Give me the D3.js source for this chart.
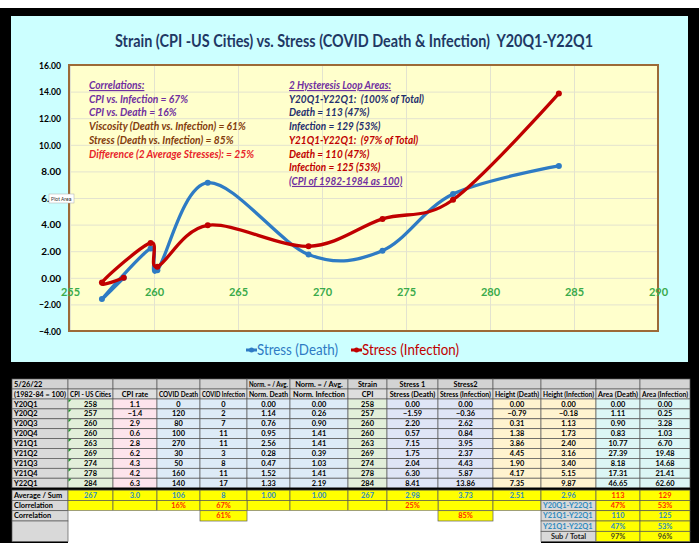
<!DOCTYPE html>
<html>
<head>
<meta charset="utf-8">
<script src="https://cdn.jsdelivr.net/npm/d3@7"></script>
<style>
body { margin: 0; background: #000; }
svg { display: block; }
svg text { white-space: pre; }
</style>
</head>
<body>
<svg id="chart"></svg>
<script>
"use strict";

// ---- data ----
const quarters = ["Y20Q1", "Y20Q2", "Y20Q3", "Y20Q4", "Y21Q1", "Y21Q2", "Y21Q3", "Y21Q4", "Y22Q1"];
const cpi = [258.2, 256.9, 259.8, 260.2, 263.2, 269.2, 273.6, 277.8, 284.1];
const cpiRate = [1.1, -1.4, 2.9, 0.6, 2.8, 6.2, 4.3, 4.2, 6.3];
const covidDeath = [0, 120, 80, 100, 270, 30, 50, 160, 140];
const covidInfection = [0, 2, 7, 11, 11, 3, 8, 11, 17];
const normDeath = [0.00, 1.14, 0.76, 0.95, 2.56, 0.28, 0.47, 1.52, 1.33];
const normInfection = [0.00, 0.26, 0.90, 1.41, 1.41, 0.39, 1.03, 1.41, 2.19];
const stressDeath = [0.00, -1.59, 2.20, 0.57, 7.15, 1.75, 2.04, 6.30, 8.41];
const stressInfection = [0.00, -0.36, 2.62, 0.84, 3.95, 2.37, 4.43, 5.87, 13.86];
const heightDeath = [0.00, -0.79, 0.31, 1.38, 3.86, 4.45, 1.90, 4.17, 7.35];
const heightInfection = [0.00, -0.18, 1.13, 1.73, 2.40, 3.16, 3.40, 5.15, 9.87];
const areaDeath = [0.00, 1.11, 0.90, 0.83, 10.77, 27.39, 8.18, 17.31, 46.65];
const areaInfection = [0.00, 0.25, 3.28, 1.03, 6.70, 19.48, 14.68, 21.41, 62.60];
const averages = [267, 3.0, 106, 8, 1.00, 1.00, 267, 2.98, 3.73, 2.51, 2.96, 113, 129];

const corrCpiDeath = 0.16;
const corrCpiInfection = 0.67;
const viscosity = 0.61;
const stressCorr = 0.85;
const stressDiff = 0.25;
const loopAll = [113, 129];
const loopAllShare = [0.47, 0.53];
const loopY21 = [110, 125];
const loopY21Share = [0.47, 0.53];
const subTotal = [0.97, 0.96];

const xTicks = [255, 260, 265, 270, 275, 280, 285, 290];
const yTicks = [-4, -2, 0, 2, 4, 6, 8, 10, 12, 14, 16];

const headRow1 = ["5/26/22", "", "", "", "", "Norm. = / Avg.", "Norm. = / Avg.", "Strain", "Stress 1", "Stress2", "", "", "", ""];
const headRow2 = ["(1982-84 = 100)", "CPI - US Cities", "CPI rate", "COVID Death", "COVID Infection", "Norm. Death",
    "Norm. Infection", "CPI", "Stress (Death)", "Stress (Infection)", "Height (Death)", "Height (Infection)",
    "Area (Death)", "Area (Infection)"];

// ---- layout ----
const W = 699, H = 543;
const FONT = "Lato, 'Open Sans', sans-serif";
const plot = { left: 69, right: 658, top: 65, bottom: 331 };
const BLUE = "#2e7bc4", RED = "#c00000";

// squeeze a text into a width (the sheet font is narrower than anything installed)
function fitWidth(sel, w) {
    sel.each(function () {
        if (this.getComputedTextLength() > w) {
            d3.select(this).attr("textLength", w).attr("lengthAdjust", "spacingAndGlyphs");
        }
    });
}
function squeeze(sel, k) {
    sel.each(function () {
        d3.select(this).attr("textLength", this.getComputedTextLength() * k).attr("lengthAdjust", "spacingAndGlyphs");
    });
}

const svg = d3.select("#chart").attr("width", W).attr("height", H);
svg.append("rect").attr("width", W).attr("height", H).attr("fill", "#000");
svg.append("rect").attr("width", W).attr("height", 8).attr("fill", "#fff");
svg.append("rect").attr("x", 11).attr("y", 16).attr("width", 677).attr("height", 346).attr("fill", "#ccffff");

svg.append("text")
    .attr("x", 354).attr("y", 47)
    .attr("text-anchor", "middle")
    .attr("font-family", FONT).attr("font-weight", "bold").attr("font-size", 16.5)
    .attr("fill", "#1f3864")
    .text("Strain (CPI -US Cities) vs. Stress (COVID Death & Infection)  Y20Q1-Y22Q1")
    .call(fitWidth, 478);

const xScale = d3.scaleLinear().domain([255, 290]).range([70, 658]);
const yScale = d3.scaleLinear().domain([-4, 16]).range([331, 65]);

svg.append("rect")
    .attr("x", plot.left).attr("y", plot.top)
    .attr("width", plot.right - plot.left).attr("height", plot.bottom - plot.top)
    .attr("fill", "#ffffcc");

// gridlines
svg.append("g")
    .attr("transform", "translate(" + plot.left + ",0)")
    .call(d3.axisLeft(yScale).tickValues(yTicks).tickSize(-(plot.right - plot.left)).tickFormat(""))
    .call(g => g.select(".domain").remove())
    .selectAll("line").attr("stroke", "#e3e3cf");
svg.append("g")
    .attr("transform", "translate(0," + plot.bottom + ")")
    .call(d3.axisBottom(xScale).tickValues(xTicks).tickSize(-(plot.bottom - plot.top)).tickFormat(""))
    .call(g => g.select(".domain").remove())
    .selectAll("line").attr("stroke", "#e3e3cf");

svg.append("rect")
    .attr("x", plot.left).attr("y", plot.top)
    .attr("width", plot.right - plot.left).attr("height", plot.bottom - plot.top)
    .attr("fill", "none").attr("stroke", "#9c6a38").attr("stroke-width", 2);

// y labels
svg.append("g")
    .attr("transform", "translate(" + plot.left + ",0)")
    .call(d3.axisLeft(yScale).tickValues(yTicks).tickFormat(d3.format(".2f")).tickSize(0).tickPadding(8))
    .call(g => g.select(".domain").remove())
    .selectAll("text")
    .attr("font-family", FONT).attr("font-weight", "bold").attr("font-size", 10).attr("fill", "#000")
    .call(fitWidth, 22);

// x labels, sitting under the zero line
svg.append("g")
    .attr("transform", "translate(0," + yScale(0) + ")")
    .call(d3.axisBottom(xScale).tickValues(xTicks).tickSize(0).tickPadding(10))
    .call(g => g.select(".domain").remove())
    .selectAll("text")
    .attr("font-family", FONT).attr("font-weight", "bold").attr("font-size", 11).attr("fill", "#3aaa4a");

// series
const deathPts = cpi.map((c, i) => ({ c: c, v: stressDeath[i] }));
const infPts = cpi.map((c, i) => ({ c: c, v: stressInfection[i] }));
const line = d3.line().x(d => xScale(d.c)).y(d => yScale(d.v)).curve(d3.curveCardinal.tension(0));

function drawSeries(pts, color) {
    svg.append("path").datum(pts)
        .attr("fill", "none").attr("stroke", color).attr("stroke-width", 3.3)
        .attr("stroke-linejoin", "round").attr("d", line);
    svg.selectAll(null).data(pts).enter().append("circle")
        .attr("cx", d => xScale(d.c)).attr("cy", d => yScale(d.v)).attr("r", 3)
        .attr("fill", color);
}
drawSeries(deathPts, BLUE);
drawSeries(infPts, RED);

// the "Plot Area" hover tip caught in the screenshot
svg.append("rect").attr("x", 49).attr("y", 194).attr("width", 25).attr("height", 9)
    .attr("fill", "#fff").attr("stroke", "#aaa").attr("stroke-width", 0.5);
svg.append("text").attr("x", 51).attr("y", 200.5)
    .attr("font-family", "Roboto, sans-serif").attr("font-size", 5).attr("fill", "#333").text("Plot Area");

// annotations
const pct = d3.format(".0%");
const leftNotes = [
    ["Correlations:", "#7030a0", true],
    ["CPI vs. Infection = " + pct(corrCpiInfection), "#7030a0"],
    ["CPI vs. Death = " + pct(corrCpiDeath), "#7030a0"],
    ["Viscosity (Death vs. Infection) = " + pct(viscosity), "#843c0c"],
    ["Stress (Death vs. Infection) = " + pct(stressCorr), "#843c0c"],
    ["Difference (2 Average Stresses): = " + pct(stressDiff), "#e8242a"]
];
const rightNotes = [
    ["2 Hysteresis Loop Areas:", "#7030a0", true],
    ["Y20Q1-Y22Q1:  (100% of Total)", "#1f2f6e"],
    ["Death = " + loopAll[0] + " (" + pct(loopAllShare[0]) + ")", "#1f2f6e"],
    ["Infection = " + loopAll[1] + " (" + pct(loopAllShare[1]) + ")", "#1f2f6e"],
    ["Y21Q1-Y22Q1:  (" + pct(subTotal[0]) + " of Total)", RED],
    ["Death = " + loopY21[0] + " (" + pct(loopY21Share[0]) + ")", RED],
    ["Infection = " + loopY21[1] + " (" + pct(loopY21Share[1]) + ")", RED],
    ["(CPI of 1982-1984 as 100)", "#7030a0", true]
];
function notes(list, x, refIndex, refWidth) {
    const t = svg.append("g").selectAll("text").data(list).enter().append("text")
        .attr("x", x).attr("y", (d, i) => 89 + i * 13.7)
        .attr("font-family", FONT).attr("font-size", 11.5)
        .attr("font-weight", "bold").attr("font-style", "italic")
        .attr("fill", d => d[1])
        .style("text-decoration", d => d[2] ? "underline" : "none")
        .text(d => d[0]);
    const k = refWidth / t.nodes()[refIndex].getComputedTextLength();
    if (k < 1) t.call(squeeze, k);
}
notes(leftNotes, 89, 5, 165);
notes(rightNotes, 289, 1, 135);

// legend
const legend = [["Stress (Death)", BLUE, 246, 81], ["Stress (Infection)", RED, 351, 97]];
legend.forEach(l => {
    svg.append("line").attr("x1", l[2]).attr("x2", l[2] + 11).attr("y1", 350).attr("y2", 350)
        .attr("stroke", l[1]).attr("stroke-width", 3);
    svg.append("circle").attr("cx", l[2] + 5.5).attr("cy", 350).attr("r", 2.5).attr("fill", l[1]);
    svg.append("text").attr("x", l[2] + 11).attr("y", 355)
        .attr("font-family", FONT).attr("font-size", 14.5).attr("fill", l[1]).text(l[0])
        .call(fitWidth, l[3]);
});

// ---- spreadsheet below the chart ----
const colX = [12, 68, 113, 157, 200, 247, 290, 348, 387, 438, 493, 541, 596, 640, 690];
const colFill = ["#d9d9d9", "#e2efda", "#fde4ec", "#ddebf7", "#ddebf7", "#ddebf7", "#ddebf7",
    "#e2efda", "#dfe5f6", "#dfe5f6", "#fff3cf", "#fff3cf", "#dcf6f5", "#dcf6f5"];
const YEL = "#ffff00", GREY = "#d9d9d9", TEAL = "#2e8bc0", ORANGE = "#ff2a00";
const tbl = svg.append("g").attr("font-family", FONT).attr("font-size", 7.4).attr("font-weight", "bold");

function cell(c0, c1, top, h, fill, txt, color, left) {
    const x0 = colX[c0], x1 = colX[c1 + 1];
    if (fill) {
        tbl.append("rect").attr("x", x0).attr("y", top).attr("width", x1 - x0).attr("height", h)
            .attr("fill", fill).attr("stroke", "#5a5a5a").attr("stroke-width", 0.7);
    }
    if (txt) {
        tbl.append("text")
            .attr("x", left ? x0 + 2 : (x0 + x1) / 2).attr("y", top + h / 2 + 2.6)
            .attr("text-anchor", left ? "start" : "middle")
            .attr("fill", color || "#000").text(txt)
            .call(fitWidth, x1 - x0 - 4);
    }
}

const f0 = d3.format(".0f"), f1 = d3.format(".1f"), f2 = d3.format(".2f");
headRow1.forEach((t, c) => cell(c, c, 379, 10, "#d3d3d3", t, "#000", c === 0));
headRow2.forEach((t, c) => cell(c, c, 389, 10, "#dedede", t, "#000", c === 0));

const rowH = 9.9;
quarters.forEach((q, i) => {
    const top = 399 + i * rowH;
    const vals = [q, f0(cpi[i]), f1(cpiRate[i]), f0(covidDeath[i]), f0(covidInfection[i]), f2(normDeath[i]),
        f2(normInfection[i]), f0(cpi[i]), f2(stressDeath[i]), f2(stressInfection[i]), f2(heightDeath[i]),
        f2(heightInfection[i]), f2(areaDeath[i]), f2(areaInfection[i])];
    vals.forEach((v, c) => cell(c, c, top, rowH, colFill[c], v, "#000", c === 0));
    tbl.append("path")
        .attr("d", "M" + (colX[1] + 0.5) + "," + (top + 0.5) + "h3l-3,3z")
        .attr("fill", "#1f8a2a");
});
const endData = 399 + quarters.length * rowH;
tbl.append("rect").attr("x", colX[0]).attr("y", endData - 0.5).attr("width", colX[14] - colX[0]).attr("height", 2.5)
    .attr("fill", "#000");

const sH = 10.3, s0 = endData + 2;
const avgFmt = [f0, f1, f0, f0, f2, f2, f0, f2, f2, f2, f2, f0, f0];
cell(0, 0, s0, sH, GREY, "Average / Sum", "#000", true);
averages.forEach((v, k) => cell(k + 1, k + 1, s0, sH, YEL, avgFmt[k](v), k >= 11 ? ORANGE : TEAL));

const s1 = s0 + sH;
cell(0, 0, s1, sH, GREY, "Clorrelation", "#000", true);
for (let c = 1; c <= 10; c++) cell(c, c, s1, sH, YEL, "", "#000");
cell(3, 3, s1, sH, YEL, pct(corrCpiDeath), ORANGE);
cell(4, 4, s1, sH, YEL, pct(corrCpiInfection), ORANGE);
cell(8, 8, s1, sH, YEL, pct(stressDiff), ORANGE);
cell(11, 11, s1, sH, GREY, "Y20Q1-Y22Q1", TEAL, true);
cell(12, 12, s1, sH, YEL, pct(loopAllShare[0]), ORANGE);
cell(13, 13, s1, sH, YEL, pct(loopAllShare[1]), ORANGE);

const s2 = s1 + sH;
tbl.append("rect").attr("x", colX[1]).attr("y", s2).attr("width", colX[11] - colX[1]).attr("height", H - s2)
    .attr("fill", "#fff");
cell(0, 0, s2, sH, GREY, "Correlation", "#000", true);
cell(4, 4, s2, sH, YEL, pct(viscosity), ORANGE);
cell(9, 9, s2, sH, YEL, pct(stressCorr), ORANGE);
cell(11, 11, s2, sH, GREY, "Y21Q1-Y22Q1", TEAL, true);
cell(12, 12, s2, sH, YEL, f0(loopY21[0]), TEAL);
cell(13, 13, s2, sH, YEL, f0(loopY21[1]), TEAL);

const s3 = s2 + sH;
cell(0, 0, s3, sH * 2, GREY, "", "#000", true);
cell(11, 11, s3, sH, GREY, "Y21Q1-Y22Q1", TEAL, true);
cell(12, 12, s3, sH, YEL, pct(loopY21Share[0]), TEAL);
cell(13, 13, s3, sH, YEL, pct(loopY21Share[1]), TEAL);

const s4 = s3 + sH;
cell(11, 11, s4, sH, GREY, "Sub / Total", "#222");
cell(12, 12, s4, sH, YEL, pct(subTotal[0]), "#4a4a20");
cell(13, 13, s4, sH, YEL, pct(subTotal[1]), "#4a4a20");
</script>
</body>
</html>
